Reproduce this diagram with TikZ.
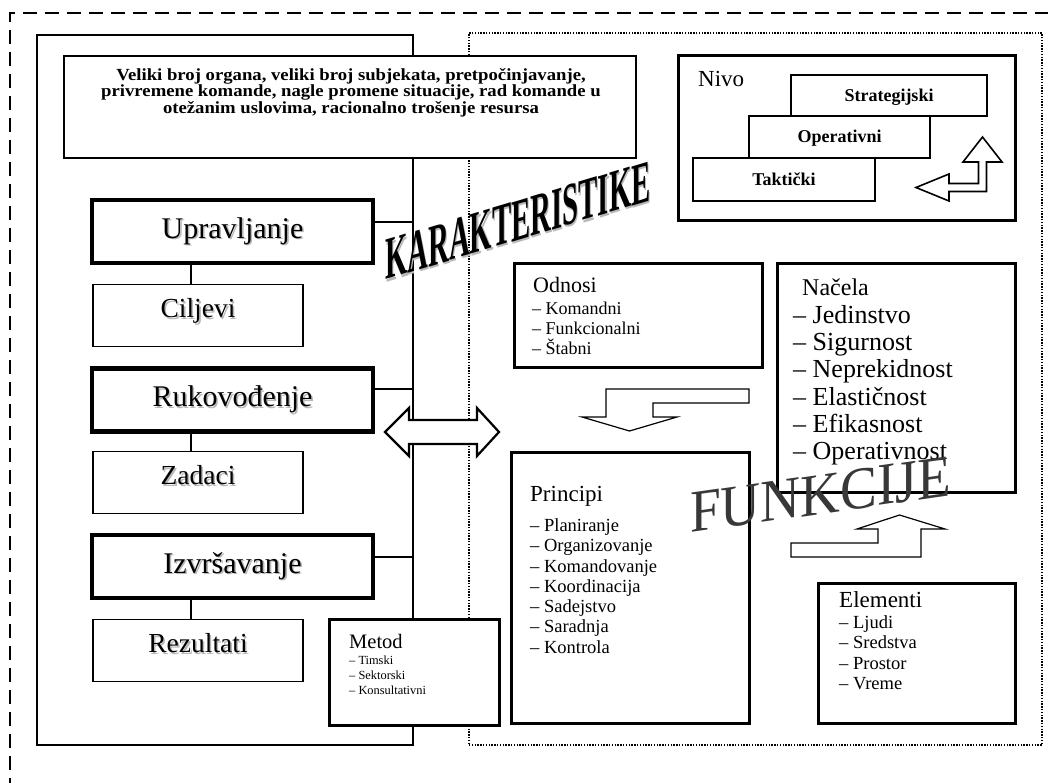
\documentclass[tikz,border=0pt]{standalone}
\usepackage{fontspec}
\setmainfont{Liberation Serif}
\usetikzlibrary{positioning}
\newcommand{\senka}[2][1.6pt]{\makebox[0pt][l]{\kern#1\raisebox{-#1}{\textcolor{black!28}{#2}}}#2}
\lineskiplimit=-20pt

\begin{document}
\begin{tikzpicture}[x=1pt,y=-1pt,inner sep=0pt]
  \tikzstyle{glavni}=[rectangle,draw=black,fill=white,line width=4.5pt,minimum width=281pt,minimum height=63pt,font=\fontsize{30}{32}\selectfont,text height=21pt,text depth=7.5pt]
  \tikzstyle{sporedni}=[rectangle,draw=black,fill=white,line width=1.3pt,minimum width=210pt,minimum height=62pt,font=\fontsize{27.5}{30}\selectfont,text height=19pt,text depth=15pt]
  \tikzstyle{kutija}=[rectangle,draw=black,fill=white,line width=3pt]
  \tikzstyle{nivokut}=[rectangle,draw=black,fill=white,line width=1.5pt,font=\bfseries\fontsize{18}{20}\selectfont,text height=13pt,text depth=1pt]
  \tikzstyle{naslov}=[anchor=base west,font=\fontsize{22}{24}\selectfont]
  \tikzstyle{stavke}=[anchor=north west,align=left]
  \tikzstyle{strelica}=[draw=black,fill=white,line join=miter]

  \useasboundingbox (0,0) rectangle (1048,783);
  \clip (0,0) rectangle (1048,783);

  % Frames.
  \node [draw,line width=1.6pt,dash pattern=on 14pt off 8pt,minimum width=1050pt,minimum height=787pt] (okvir) at (535,406.5) {};
  \node [draw,line width=1.5pt,dash pattern=on 1.4pt off 1.4pt,minimum width=573pt,minimum height=712pt] (desno) at (755.5,389) {};
  \node [draw,line width=2.5pt,minimum width=376pt,minimum height=710pt] (levo) at (225,390) {};

  % Left column.
  \node [glavni] (upr) at (232.5,231.5) {\senka{Upravljanje}};
  \node [sporedni] (cilj) at (198,315.5) {\senka{Ciljevi}};
  \node [glavni] (ruk) at (232.5,400) {\senka{Rukovođenje}};
  \node [sporedni] (zad) at (198,482.5) {\senka{Zadaci}};
  \node [glavni] (izv) at (232.5,566.5) {\senka{Izvršavanje}};
  \node [sporedni] (rez) at (198,650.5) {\senka{Rezultati}};

  \draw [line width=1.3pt] ([xshift=-7pt]cilj.north) -- ([xshift=-7pt]cilj.north |- upr.south);
  \draw [line width=1.3pt] ([xshift=-7pt]zad.north) -- ([xshift=-7pt]zad.north |- ruk.south);
  \draw [line width=1.3pt] ([xshift=-7pt]rez.north) -- ([xshift=-7pt]rez.north |- izv.south);
  \draw [line width=2.5pt] ([yshift=9.5pt]upr.east) -- ([yshift=9.5pt]upr.east -| levo.east);
  \draw [line width=2.5pt] ([yshift=11pt]ruk.east) -- ([yshift=11pt]ruk.east -| levo.east);
  \draw [line width=2.5pt] ([yshift=9.5pt]izv.east) -- ([yshift=9.5pt]izv.east -| levo.east);

  % Top text.
  \node [kutija,line width=2.5pt,minimum width=572pt,minimum height=102pt] (opis) at (350,107) {};
  \node [anchor=north,align=center,xscale=1.1,font=\bfseries\fontsize{17}{16.5}\selectfont] (opisT) at (351,68)
    {Veliki broj organa, veliki broj subjekata, pretpočinjavanje,\\
     privremene komande, nagle promene situacije, rad komande u\\
     otežanim uslovima, racionalno trošenje resursa};

  % Nivo.
  \node [kutija,minimum width=337pt,minimum height=165pt] (nivo) at (846.5,138.5) {};
  \node [naslov,font=\fontsize{23}{25}\selectfont] (nivoT) at (698,87) {Nivo};
  \node [nivokut,minimum width=196pt,minimum height=41pt] (strat) at (889,95.5) {Strategijski};
  \node [nivokut,minimum width=181pt,minimum height=42pt] (oper) at (839.5,137) {Operativni};
  \node [nivokut,minimum width=182pt,minimum height=43pt] (takt) at (784,179.5) {Taktički};
  \draw [strelica,line width=1.6pt] (916,187.5) -- (949,174) -- (949,183.5) -- (978.5,183.5) -- (978.5,162) -- (963,162)
    -- (982.5,137) -- (1002,162) -- (986.5,162) -- (986.5,191.5) -- (949,191.5) -- (949,201) -- cycle;

  % Odnosi.
  \node [kutija,minimum width=248pt,minimum height=103pt] (odnosi) at (638,315.5) {};
  \node [naslov] (odnosiT) at (533,293) {Odnosi};
  \node [stavke,font=\fontsize{18}{20}\selectfont] (odnosiS) at (532,301.7) {-- Komandni\\-- Funkcionalni\\-- Štabni};

  % Nacela.
  \node [kutija,minimum width=238pt,minimum height=228pt] (nacela) at (896,378) {};
  \node [naslov,font=\fontsize{24}{26}\selectfont] (nacelaT) at (802,295) {Načela};
  \node [stavke,font=\fontsize{26}{27.2}\selectfont] (nacelaS) at (793,305.2)
    {-- Jedinstvo\\-- Sigurnost\\-- Neprekidnost\\-- Elastičnost\\-- Efikasnost\\-- Operativnost};

  % Principi.
  \node [kutija,minimum width=238pt,minimum height=271pt] (principi) at (630,587.5) {};
  \node [naslov,font=\fontsize{23}{25}\selectfont] (principiT) at (530,501) {Principi};
  \node [stavke,font=\fontsize{18.5}{20.3}\selectfont] (principiS) at (530,518.4)
    {-- Planiranje\\-- Organizovanje\\-- Komandovanje\\-- Koordinacija\\-- Sadejstvo\\-- Saradnja\\-- Kontrola};

  % Elementi.
  \node [kutija,minimum width=197pt,minimum height=140pt] (elementi) at (916.5,653) {};
  \node [naslov,font=\fontsize{23}{25}\selectfont] (elementiT) at (839,607) {Elementi};
  \node [stavke,font=\fontsize{18.5}{20.5}\selectfont] (elementiS) at (839,615.4) {-- Ljudi\\-- Sredstva\\-- Prostor\\-- Vreme};

  % Metod.
  \node [kutija,minimum width=170pt,minimum height=106pt] (metod) at (414,672) {};
  \node [naslov,font=\fontsize{20.5}{22}\selectfont] (metodT) at (349,648) {Metod};
  \node [stavke,font=\fontsize{12.4}{15}\selectfont] (metodS) at (349,655.5) {-- Timski\\-- Sektorski\\-- Konsultativni};

  % Block arrows.
  \draw [strelica,line width=2.2pt] (385,432) -- (409,408) -- (409,420) -- (477,420) -- (477,408) -- (499,432)
    -- (477,456) -- (477,444) -- (409,444) -- (409,456) -- cycle;
  \draw [strelica,line width=1.2pt] (749,389) -- (606,389) -- (606,417) -- (582,417) -- (629.5,431) -- (677,417)
    -- (653,417) -- (653,403) -- (749,403) -- cycle;
  \draw [strelica,line width=1.2pt] (791,543) -- (878,543) -- (878,529) -- (857,529) -- (899.5,515) -- (945,529)
    -- (921,529) -- (921,557) -- (791,557) -- cycle;

  % Slanted titles.
  \node [anchor=base west,cm={0.48,0.144,0,1,(0,0)},font=\bfseries\fontsize{60}{60}\selectfont] (karakt) at (385,280) {\senka[2.5pt]{KARAKTERISTIKE}};
  \node [anchor=base west,cm={0.92,0.133,0,1,(0,0)},font=\fontsize{60}{60}\selectfont,text=black!78] (funkcije) at (690,533) {FUNKCIJE};
\end{tikzpicture}
\end{document}
